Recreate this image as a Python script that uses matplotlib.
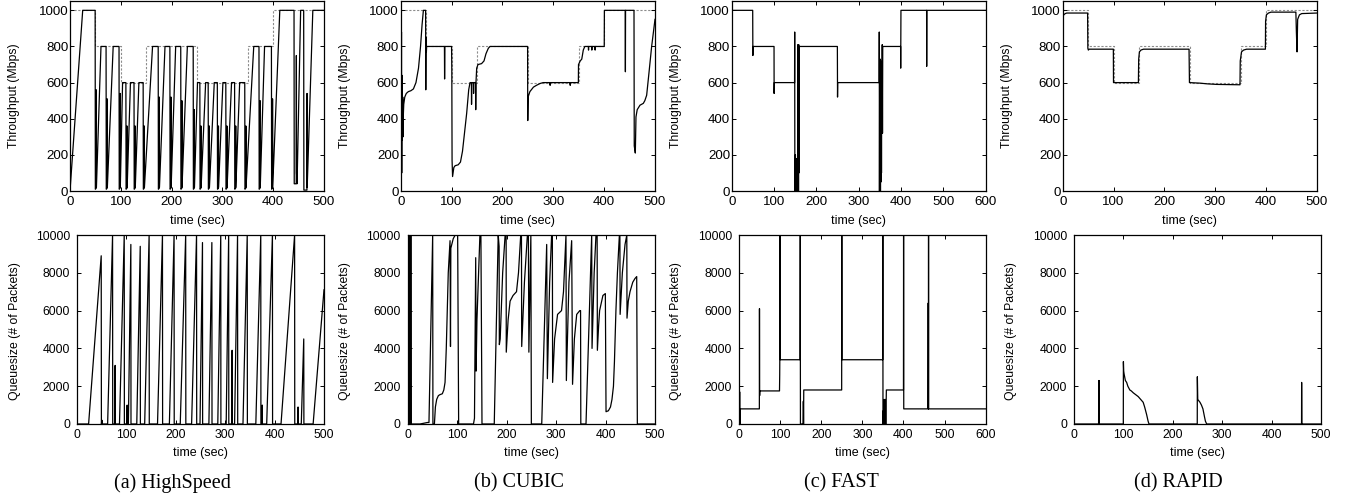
import matplotlib
matplotlib.use('Agg')
import matplotlib.pyplot as plt

plt.rcParams['font.family'] = ['Liberation Sans', 'DejaVu Sans']

W, H = 1351, 500

# available bandwidth (dashed step line)
bw_edges = [0, 50, 100, 150, 250, 350, 400, 500]
bw_levels = [1000, 800, 600, 800, 600, 800, 1000]

# (a) HighSpeed throughput
hs_tput_t = [0, 25, 49.5,
             49.9, 51.5, 51.7, 52.0, 61, 71,
             71.4, 73, 73.2, 73.5, 85, 96.5,
             96.9, 98.5, 98.7, 99, 103.5, 110,
             110.4, 112, 112.2, 112.5, 119, 126,
             126.4, 128, 128.2, 128.5, 135.6, 144,
             144.4, 146, 146.2, 146.5, 162.5, 173.6,
             174, 175.6, 175.8, 176.1, 187, 196.6,
             197, 198.6, 198.8, 199.1, 208, 218,
             218.4, 220, 220.2, 220.5, 231, 242.5,
             242.9, 244.5, 244.7, 245, 251, 255.6,
             256, 257.6, 257.8, 258.1, 267, 272,
             272.4, 274, 274.2, 274.5, 284, 290,
             290.4, 292, 292.2, 292.5, 301, 306.7,
             307.1, 308.7, 308.9, 309.2, 318, 324,
             324.4, 326, 326.2, 326.5, 334, 344,
             344.4, 346, 346.2, 346.5, 361.7, 372,
             372.4, 374, 374.2, 374.5, 383, 396.5,
             396.9, 398.5, 398.7, 399, 413, 441,
             441.4, 445.4, 445.6, 445.9, 447, 454, 460,
             460.4, 464, 466.4, 466.6, 466.9, 478, 500]
hs_tput_v = [0, 1000, 1000,
             10, 15, 560, 20, 800, 800,
             10, 15, 510, 20, 800, 800,
             10, 15, 540, 20, 600, 600,
             10, 15, 360, 20, 600, 600,
             10, 15, 360, 20, 600, 600,
             10, 15, 360, 20, 800, 800,
             10, 15, 520, 20, 800, 800,
             10, 15, 520, 20, 800, 800,
             10, 15, 500, 20, 800, 800,
             10, 15, 450, 20, 600, 600,
             10, 15, 360, 20, 600, 600,
             10, 15, 360, 20, 600, 600,
             10, 15, 360, 20, 600, 600,
             10, 15, 360, 20, 600, 600,
             10, 15, 360, 20, 600, 600,
             10, 15, 360, 20, 800, 800,
             10, 15, 500, 20, 800, 800,
             10, 15, 510, 20, 1000, 1000,
             40, 40, 750, 100, 40, 1000, 1000,
             5, 5, 5, 540, 20, 1000, 1000]

# (a) HighSpeed queue
hs_q_t = [0, 23.5, 49, 49.4, 50.5, 51,
          62, 72, 72.3, 76.5, 77.2, 77.5,
          86, 95.6, 95.9, 101, 101.5, 101.8,
          104, 109, 109.3, 121, 128, 128.3,
          137, 146, 146.3, 163, 173, 173.3,
          187, 196.5, 196.8, 209, 220, 220.3,
          232, 242, 242.3, 249, 254, 254.3,
          267, 273, 273.3, 285, 291, 291.3,
          302, 307, 307.3, 313.5, 314, 314.3,
          319, 325, 325.3, 336, 344.6, 344.9,
          362, 372, 372.3, 374.5, 375, 375.3,
          384, 395.6, 395.9, 413, 440.5, 440.8,
          447, 447.5, 447.8, 454, 459, 459.3,
          478, 500]
hs_q_v = [0, 0, 8900, 0, 200, 0,
          0, 10000, 0, 0, 3100, 0,
          0, 10000, 0, 0, 1000, 0,
          0, 9500, 0, 0, 9400, 0,
          0, 10000, 0, 0, 10000, 0,
          0, 10000, 0, 0, 10000, 0,
          0, 10000, 0, 0, 9600, 0,
          0, 9600, 0, 0, 10000, 0,
          0, 10000, 0, 0, 3900, 0,
          0, 10000, 0, 0, 10000, 0,
          0, 10000, 0, 0, 1000, 0,
          0, 10000, 0, 0, 10000, 0,
          0, 900, 0, 0, 4500, 0,
          0, 7100]

# (b) CUBIC throughput
cu_tput_t = [0, 0.5, 1.0, 1.5, 2.0, 2.6, 3.2, 4.0, 4.6, 5.3, 6.0, 8, 11, 15, 20, 25,
             30, 35, 39, 42, 44.6, 49, 49.3, 49.8, 50.5, 51, 86, 86.3, 86.8, 100,
             100.5, 101, 102, 104.5, 107, 113, 117.5, 121.5, 125.8, 129.7, 133.7, 136.3,
             139, 139.3, 139.7, 143, 143.3, 143.6, 147.2, 147.5, 148, 149.4, 152, 159,
             163.8, 167.7, 172.3, 175.6, 249.5, 249.8, 250.5, 254, 261, 267, 274, 280,
             293.5, 293.8, 294.1, 333, 333.3, 333.6, 349.3, 349.6, 353, 356, 359, 362,
             369, 369.3, 369.6, 375.5, 375.8, 376.1, 382, 382.3, 382.6, 400.2, 400.5,
             441.5, 441.8, 442.1, 458.7, 459.2, 460.2, 461.3, 462.6, 465, 470.5, 477,
             480, 483.6, 488, 493.4, 500]
cu_tput_v = [100, 890, 300, 880, 100, 640, 280, 520, 300, 430, 480, 520, 540, 550, 555, 565,
             600, 680, 800, 920, 1000, 1000, 560, 850, 770, 800, 800, 620, 800, 800,
             670, 170, 80, 130, 140, 145, 160, 220, 330, 430, 560, 600,
             600, 480, 600, 600, 540, 600, 600, 450, 600, 680, 700, 705,
             720, 760, 790, 800, 800, 390, 520, 550, 575, 585, 595, 600,
             600, 585, 600, 600, 585, 600, 600, 700, 720, 730, 780, 800,
             800, 780, 800, 800, 780, 800, 800, 780, 800, 800, 1000,
             1000, 660, 1000, 1000, 250, 230, 210, 410, 450, 475, 485,
             500, 530, 650, 800, 950]

# (b) CUBIC queue
cu_q_t = [0, 3, 3.3, 3.8, 6, 6.3, 6.8, 25, 40, 43, 50.5, 51, 54, 56, 58.6, 62, 65, 70,
          73, 75.5, 78, 82, 85.6, 86.5, 87.2, 92, 96, 101, 103, 133, 135, 137.5, 138.3,
          140, 146, 148, 149.7, 150.2, 175, 183, 184.8, 185.3, 187, 192, 197, 199,
          199.3, 203, 207, 213, 220, 224, 228.5, 230, 230.5, 236, 242, 244, 245, 249,
          250, 271, 281, 282.4, 287, 291, 292.5, 293, 297, 303, 311, 315, 320, 320.8,
          326, 331.5, 333.3, 337, 341.7, 348, 349.5, 350, 360.5, 372, 372.7, 377,
          380.7, 383, 383.5, 386, 388, 394.7, 399.6, 401, 405.7, 410, 413, 416, 418,
          421, 424, 428, 429, 429.5, 434, 439.4, 443, 443.4, 446, 449.5, 455, 459.6,
          463, 464.3, 500]
cu_q_v = [0, 0, 10000, 0, 0, 10000, 0, 0, 80, 80, 10000, 0, 0, 900, 1300, 1500, 1550, 1600,
          1800, 2200, 4000, 8000, 9700, 4100, 9300, 9800, 10000, 10000, 0, 0, 300, 8800, 2800,
          5500, 10000, 10000, 2400, 0, 0, 10000, 9400, 4200, 4500, 8000, 10000, 10000,
          3800, 5500, 6500, 6800, 7000, 8000, 10000, 10000, 4100, 7500, 10000, 10000, 3800, 10000,
          0, 0, 9500, 2400, 7500, 10000, 10000, 2200, 4500, 5800, 6000, 7000, 10000, 2300,
          7500, 9700, 2100, 4500, 5800, 6000, 6000, 0, 0, 10000, 4000, 8000,
          10000, 10000, 3900, 5200, 6000, 6800, 6900, 650, 700, 900, 1300, 2000, 3300,
          6000, 8000, 10000, 10000, 5800, 8000, 9500, 10000, 5600, 6500, 7000, 7500, 7700,
          7800, 0, 0]

# (c) FAST throughput
fa_tput_t = [0, 0.5, 1.0, 1.5, 2.2, 49.6, 50, 50.4, 100, 100.2, 100.6, 148.5, 148.8,
             149.2, 150, 150.5, 151, 152, 152.5, 156, 156.3, 156.8, 157.3, 157.8, 158.3,
             158.8, 159.3, 160, 249.6, 250, 250.4, 348.3, 348.6, 349, 349.6, 350.2, 350.8,
             351.4, 352, 352.6, 353.2, 353.8, 354.4, 355, 355.6, 356.2, 356.8, 357.5, 399,
             399.2, 399.8, 460.4, 460.6, 461, 600]
fa_tput_v = [0, 1000, 150, 1000, 1000, 1000, 750, 800, 800, 540, 600, 600, 880,
             0, 0, 200, 0, 180, 0, 0, 810, 0, 800, 0, 810,
             100, 800, 800, 800, 520, 600, 600, 880, 0, 700, 0, 730,
             0, 720, 50, 700, 100, 650, 330, 810, 320, 800, 800, 800,
             680, 1000, 1000, 690, 1000, 1000]

# (c) FAST queue
fa_q_t = [0, 0.4, 1, 1.6, 2.2, 3, 49.5, 49.8, 50.2, 50.6, 98.5, 99, 99.5, 100, 100.5,
          148.4, 149, 149.4, 156, 156.5, 157, 157.5, 249.7, 250, 250.4, 349.5, 349.8,
          350.2, 351, 351.8, 353, 354, 356, 357, 358.4, 400, 400.3, 400.7, 460, 460.3,
          460.6, 461, 461.3, 600]
fa_q_v = [0, 1700, 0, 1700, 0, 800, 800, 6100, 1500, 1750, 1750, 2600, 4300, 10000, 3400,
          3400, 10000, 0, 0, 1200, 0, 1800, 1800, 10000, 3400, 3400, 10000,
          0, 700, 0, 1300, 0, 1300, 0, 1800, 1800, 10000, 800, 800, 6400,
          800, 10000, 800, 800]

# (d) RAPID throughput
ra_tput_t = [0, 2, 5, 8, 49, 49.5, 50.5, 52, 99.7, 100, 149, 149.6, 151, 154, 159, 248.7,
             249.5, 270, 285, 303, 349, 349.5, 352, 356, 362, 399, 399.4, 401, 405, 410,
             459, 460, 461.3, 462.5, 466, 470.5, 500]
ra_tput_v = [960, 975, 982, 985, 985, 790, 780, 785, 785, 600, 600, 730, 770, 780, 785, 785,
             600, 597, 593, 590, 588, 720, 770, 780, 785, 785, 940, 975, 985, 990,
             990, 880, 770, 950, 975, 982, 985]

# (d) RAPID queue
ra_q_t = [0, 49.8, 50, 50.4, 50.8, 51.2, 99.8, 100, 100.6, 101.4, 102.5, 104, 106.6, 109,
          113, 116, 120, 125, 130, 135, 140, 143, 147, 150, 151.8, 249.5, 249.7, 250.5,
          252, 255, 258, 261, 264, 266, 268.6, 460.6, 460.8, 461.2, 500]
ra_q_v = [0, 0, 2300, 0, 2300, 0, 0, 3300, 2800, 2650, 2500, 2300, 2200, 2000,
          1800, 1750, 1650, 1550, 1450, 1300, 1150, 900, 500, 150, 0, 0, 2500, 1300,
          1250, 1150, 1000, 800, 400, 150, 0, 0, 2200, 0, 0]

fig = plt.figure(figsize=(W / 100, H / 100), dpi=100)


def make_axes(x0, x1, y0, y1):
    return fig.add_axes([x0 / W, 1 - y1 / H, (x1 - x0) / W, (y1 - y0) / H])


def style(ax, xmax, ymax, yticks, labelsize, ypad):
    ax.set_xlim(0, xmax)
    ax.set_ylim(0, ymax)
    ax.set_xticks(range(0, xmax + 1, 100))
    ax.set_yticks(yticks)
    ax.tick_params(direction='in', top=True, right=True, length=3, width=0.7,
                   labelsize=labelsize)
    ax.tick_params(axis='y', pad=ypad)
    ax.tick_params(axis='x', pad=3.5)
    for s in ax.spines.values():
        s.set_linewidth(0.9)


tput = [(hs_tput_t, hs_tput_v, 500, True), (cu_tput_t, cu_tput_v, 500, True),
        (fa_tput_t, fa_tput_v, 600, False), (ra_tput_t, ra_tput_v, 500, True)]
queue = [(hs_q_t, hs_q_v, 500), (cu_q_t, cu_q_v, 500),
         (fa_q_t, fa_q_v, 600), (ra_q_t, ra_q_v, 500)]

top_rects = [(70, 324), (400.7, 655), (731.7, 985.7), (1062.7, 1316.7)]
bot_rects = [(77, 324), (407.7, 655), (739, 985.7), (1074, 1321)]
top_ylab_x = [14, 345, 675.7, 1007]
bot_ylab_x = [15, 345, 675.7, 1010.7]
captions = ['(a) HighSpeed', '(b) CUBIC', '(c) FAST', '(d) RAPID']
cap_x = [172, 519, 841, 1178]

for i in range(4):
    t, v, xmax, dashed = tput[i]
    x0, x1 = top_rects[i]
    ax = make_axes(x0, x1, 1.3, 191)
    if dashed:
        ax.stairs(bw_levels, bw_edges, baseline=None, color='#8c8c8c', lw=0.8,
                  linestyle=(0, (2, 1.5)), zorder=1)
    ax.plot(t, v, color='black', lw=0.9, zorder=2)
    style(ax, xmax, 1050, range(0, 1001, 200), 9.6, 1.2)
    fig.text((x0 + x1) / 2 / W, 1 - 221 / H, 'time (sec)', ha='center', va='center',
             fontsize=9)
    fig.text(top_ylab_x[i] / W, 1 - 96 / H, 'Throughput (Mbps)', rotation=90,
             ha='center', va='center', fontsize=8.8)

    t, v, xmax = queue[i]
    x0, x1 = bot_rects[i]
    ax = make_axes(x0, x1, 235, 424)
    ax.plot(t, v, color='black', lw=0.9)
    style(ax, xmax, 10000, range(0, 10001, 2000), 8.8, 5)
    fig.text((x0 + x1) / 2 / W, 1 - 453 / H, 'time (sec)', ha='center', va='center',
             fontsize=9)
    fig.text(bot_ylab_x[i] / W, 1 - 331 / H, 'Queuesize (# of Packets)', rotation=90,
             ha='center', va='center', fontsize=8.8)

    fig.text(cap_x[i] / W, 1 - 483 / H, captions[i], ha='center', va='center',
             fontsize=14.5, family='Liberation Serif')

fig.savefig('out.png', dpi=100)
